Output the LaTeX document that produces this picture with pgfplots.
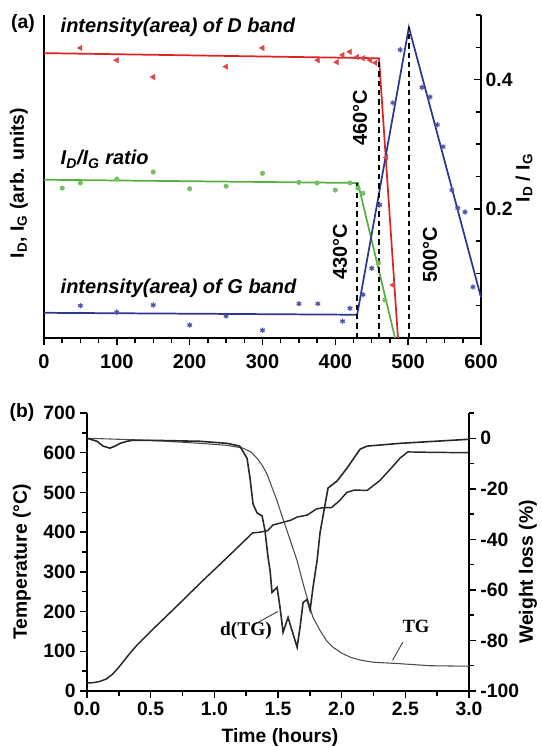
\documentclass[border=0pt]{standalone}
\usepackage{pgfplots}
\pgfplotsset{compat=1.18}
\usepackage{fontspec}
\setmainfont{Liberation Sans}
\newfontfamily\timesfont{Liberation Serif}

\definecolor{cred}{RGB}{220,35,35}
\definecolor{cgreen}{RGB}{85,175,65}
\definecolor{cblue}{RGB}{45,55,145}
\definecolor{cgray}{RGB}{40,40,40}

\pgfplotsset{
  common/.style={
    scale only axis,
    /pgf/number format/assume math mode=true,
    tick label style={font=\fontsize{14.5}{16}\selectfont\bfseries},
    axis line style={-, line width=1.2pt},
    every outer x axis line/.append style={-},
    every outer y axis line/.append style={-},
    every tick/.style={black, line width=1.1pt},
    major tick length=5pt,
    minor tick length=4pt,
  }
}

\begin{document}
\begin{tikzpicture}
\path[use as bounding box] (0,0) rectangle (406.5pt,560.25pt);

% ---------------- Panel (a) ----------------
\begin{axis}[common, anchor=south west, at={(33pt,306.75pt)},
  width=327.75pt, height=242.25pt,
  xmin=0, xmax=600, ymin=0, ymax=0.5,
  axis x line*=bottom, axis y line*=box,
  xtick={0,100,...,600}, minor x tick num=3,
  xticklabel style={yshift=-4pt, font=\fontsize{15}{16}\selectfont\bfseries},
  ytick pos=right, yticklabel pos=right,
  ytick={0,0.2,0.4}, yticklabels={,0.2,0.4},
  minor ytick={0.05,0.1,0.15,0.25,0.3,0.35,0.45,0.5},
  xtick align=outside, ytick align=inside, clip=false]
% fit lines
\addplot[cred, line width=1.3pt] coordinates {(0,0.441) (460,0.433) (486,0)};
\addplot[cgreen, line width=1.3pt] coordinates {(0,0.245) (431,0.240) (482,0)};
\addplot[cblue, line width=1.3pt] coordinates {(0,0.039) (430,0.036) (501,0.481) (600,0.063)};
% dashed markers of transition temperatures
\addplot[black, line width=1.1pt, dash pattern=on 4pt off 3pt] coordinates {(430,0) (430,0.240)};
\addplot[black, line width=1.1pt, dash pattern=on 4pt off 3pt] coordinates {(460,0) (460,0.433)};
\addplot[black, line width=1.1pt, dash pattern=on 4pt off 3pt] coordinates {(501,0) (501,0.481)};
% data points
\addplot[only marks, mark=triangle*, mark size=2.3pt, color=cred!85, mark options={rotate=90}] coordinates {
(50,0.449) (100,0.430) (150,0.404) (250,0.420) (300,0.449) (376,0.430) (402,0.427)
(410,0.438) (420,0.443) (430,0.435) (438,0.433) (448,0.430) (455,0.426) (470,0.28) (479,0.082)};
\addplot[only marks, mark=*, mark size=1.7pt, color=cgreen!80] coordinates {
(25,0.232) (50,0.240) (100,0.246) (150,0.257) (200,0.231) (250,0.235) (300,0.255)
(350,0.241) (375,0.240) (400,0.229) (420,0.240) (431,0.232) (438,0.224) (459,0.116) (468,0.059)};
\addplot[only marks, mark=asterisk, mark size=2pt, color=cblue!85, mark options={line width=0.9pt}] coordinates {
(50,0.050) (100,0.040) (150,0.051) (200,0.020) (250,0.034) (300,0.012) (350,0.053)
(376,0.053) (410,0.026) (420,0.046) (438,0.067) (450,0.108) (461,0.206) (479,0.364)
(489,0.446) (519,0.388) (530,0.373) (540,0.330) (548,0.296) (560,0.229) (568,0.201)
(578,0.195) (589,0.079)};
\end{axis}

% ---------------- Panel (b) ----------------
\begin{axis}[common, anchor=south west, at={(65.25pt,42pt)},
  width=286.5pt, height=208.5pt,
  xmin=0, xmax=3, ymin=0, ymax=700,
  axis x line*=bottom, axis y line*=left,
  xtick={0,0.5,...,3}, xticklabels={0.0,0.5,1.0,1.5,2.0,2.5,3.0}, minor x tick num=1,
  ytick={0,100,...,700}, minor y tick num=1,
  tick align=outside]
\addplot[cgray, line width=1.1pt] coordinates {
(0,20) (0.05,21) (0.10,24) (0.15,30) (0.20,42) (0.25,60) (0.30,80) (0.35,100) (0.40,118)
(0.50,150) (0.70,212) (0.90,275) (1.10,336) (1.30,398) (1.36,400) (1.42,404) (1.46,418)
(1.52,423) (1.60,430) (1.65,438) (1.73,443) (1.80,458) (1.84,461) (1.92,462) (1.98,478)
(2.04,500) (2.10,506) (2.20,505) (2.30,530) (2.40,565) (2.46,587) (2.52,602) (2.70,601) (3.0,600)};
\end{axis}
\begin{axis}[common, anchor=south west, at={(65.25pt,42pt)},
  width=286.5pt, height=208.5pt,
  xmin=0, xmax=3, ymin=-100, ymax=10,
  axis x line=none, axis y line*=right,
  ytick={-100,-80,...,0}, yticklabels={-100,-80,-60,-40,-20,0},
  minor ytick={-90,-70,-50,-30,-10,10},
  tick align=outside, clip=false]
% TG
\addplot[black!70, line width=0.8pt] coordinates {
(0,0) (0.5,-0.8) (0.888,-2.0) (1.1,-2.8) (1.225,-3.9) (1.29,-5.5) (1.335,-7.9) (1.38,-11)
(1.414,-14.2) (1.45,-19) (1.493,-24.8) (1.53,-30.5) (1.571,-36.6) (1.61,-42.5) (1.65,-48.4)
(1.697,-57.5) (1.728,-63) (1.775,-70.9) (1.83,-76) (1.88,-80) (1.932,-82.7) (2.0,-85)
(2.066,-86.6) (2.15,-87.8) (2.247,-88.6) (2.459,-89.2) (2.694,-90.0) (3.0,-90.2)};
% d(TG)
\addplot[cgray, line width=1.2pt] coordinates {
(0,0) (0.079,-1.2) (0.126,-3.1) (0.18,-3.9) (0.22,-3.1) (0.26,-2) (0.314,-1.2) (0.36,-0.8)
(0.6,-0.9) (0.888,-1.2) (1.1,-2) (1.2,-3.1) (1.257,-7.9) (1.28,-15.7) (1.304,-26) (1.335,-29.5)
(1.375,-30.7) (1.398,-36.6) (1.422,-47.2) (1.438,-52.4) (1.453,-61) (1.493,-59) (1.516,-66.9)
(1.54,-76.8) (1.579,-70.9) (1.65,-82.7) (1.673,-74.8) (1.697,-65) (1.728,-63.8) (1.752,-68)
(1.775,-59) (1.807,-48.4) (1.83,-37.4) (1.893,-19.7) (1.964,-16.9) (2.042,-11.8) (2.145,-4.3)
(2.2,-3.1) (2.459,-2) (3.0,-0.4)};
% leader lines
\draw[black!75, line width=0.7pt] (axis cs:1.32,-73.5) -- (axis cs:1.50,-68.5);
\draw[black!75, line width=0.7pt] (axis cs:2.48,-80.7) -- (axis cs:2.40,-87.8);
\end{axis}

% ---------------- Text ----------------
\node[font=\fontsize{14.5}{16}\selectfont\bfseries] at (17.25pt,542.25pt) {(a)};
\node[anchor=base west, font=\fontsize{15}{17}\selectfont\bfseries\itshape] at (42pt,535.5pt) {intensity(area) of D band};
\node[anchor=base west, font=\fontsize{15}{17}\selectfont\bfseries\itshape] at (42pt,436.5pt) {I\textsubscript{D}/I\textsubscript{G} ratio};
\node[anchor=base west, font=\fontsize{15}{17}\selectfont\bfseries\itshape] at (42pt,339.75pt) {intensity(area) of G band};
\node[rotate=90, font=\fontsize{15}{17}\selectfont\bfseries] at (270pt,472pt) {460°C};
\node[rotate=90, font=\fontsize{15}{17}\selectfont\bfseries] at (255pt,371.25pt) {430°C};
\node[rotate=90, font=\fontsize{15}{17}\selectfont\bfseries] at (322.5pt,369pt) {500°C};
\node[rotate=90, font=\fontsize{14.5}{16}\selectfont\bfseries] at (14.25pt,423pt) {I\textsubscript{D}, I\textsubscript{G} (arb. units)};
\node[rotate=90, font=\fontsize{14.5}{16}\selectfont\bfseries] at (393pt,426.75pt) {I\textsubscript{D} / I\textsubscript{G}};

\node[font=\fontsize{14.5}{16}\selectfont\bfseries] at (16.5pt,250.5pt) {(b)};
\node[rotate=90, font=\fontsize{14.5}{16}\selectfont\bfseries] at (16.5pt,138.75pt) {Temperature (°C)};
\node[rotate=90, font=\fontsize{14.5}{16}\selectfont\bfseries] at (396pt,131.25pt) {Weight loss (\%)};
\node[font=\fontsize{14.5}{16}\selectfont\bfseries] at (210pt,6.75pt) {Time (hours)};
\node[font=\fontsize{14.5}{16}\selectfont\timesfont\bfseries] at (184.5pt,87pt) {d(TG)};
\node[font=\fontsize{14}{16}\selectfont\timesfont\bfseries] at (312pt,90.75pt) {TG};
\end{tikzpicture}
\end{document}
